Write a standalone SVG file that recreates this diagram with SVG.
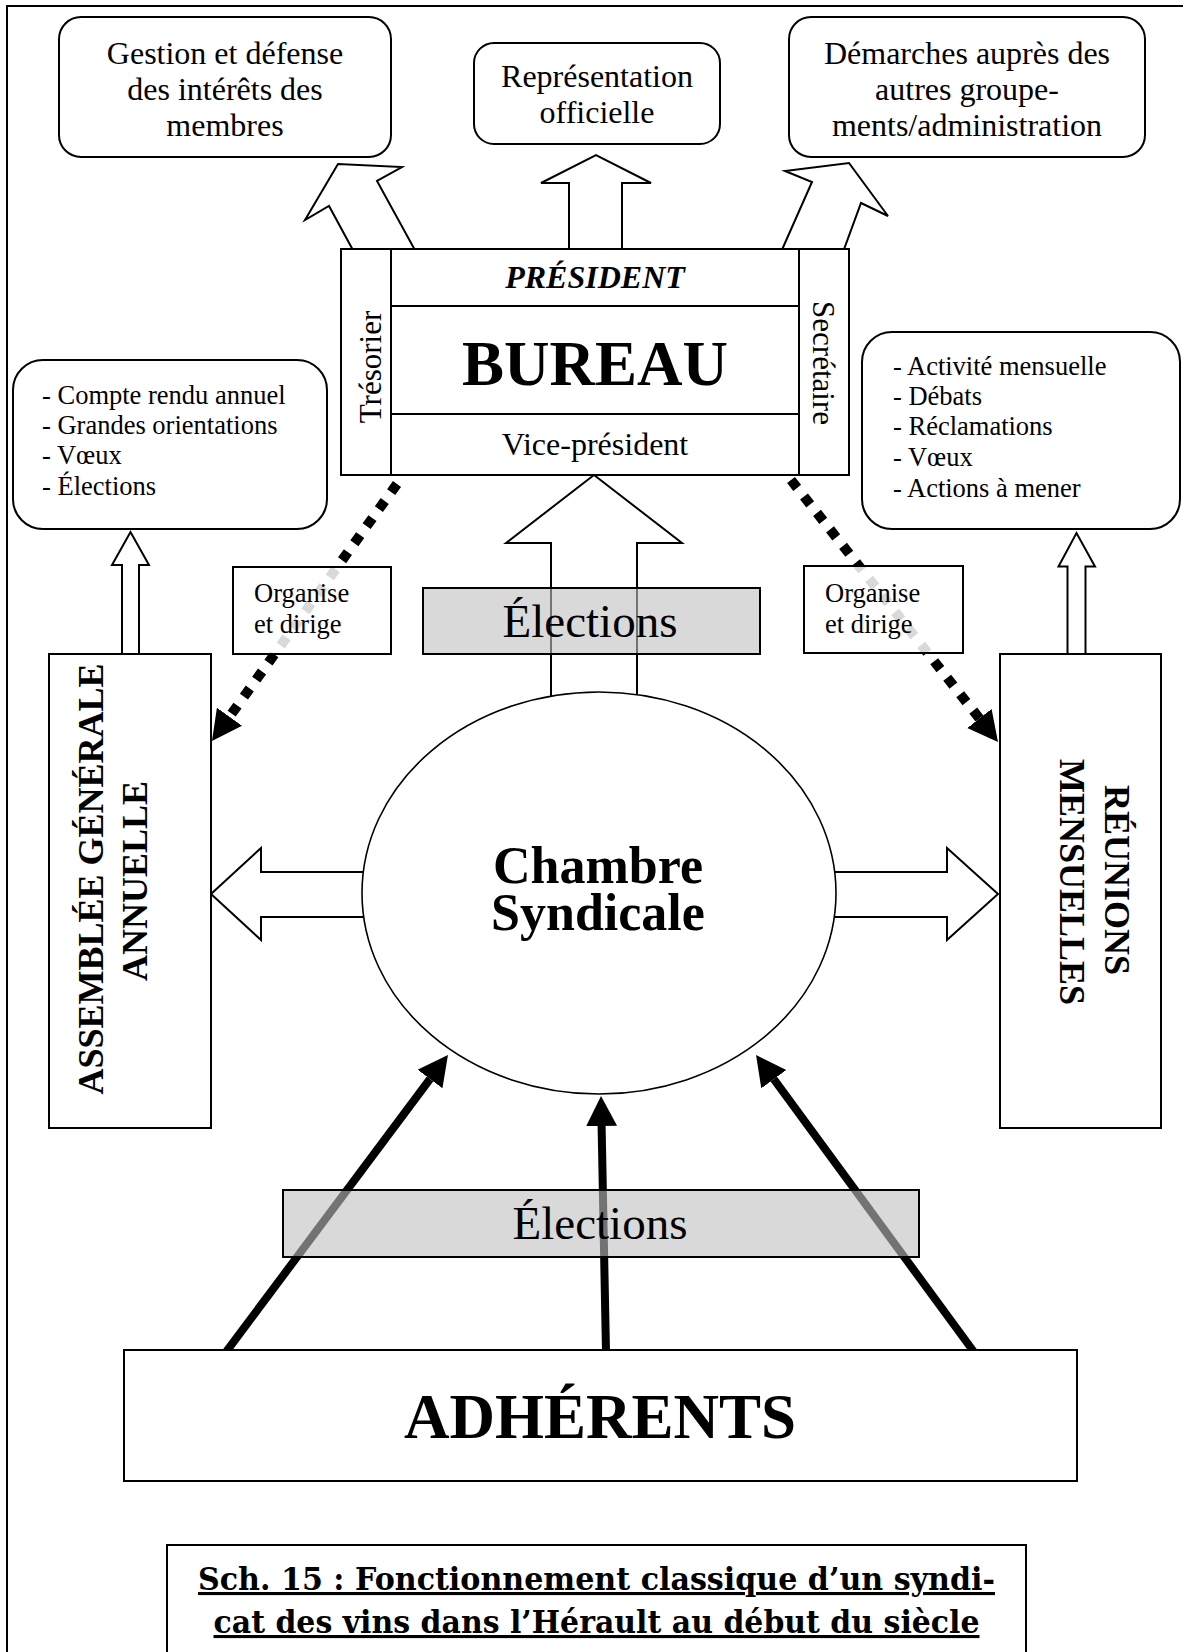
<svg xmlns="http://www.w3.org/2000/svg" width="1183" height="1652" viewBox="0 0 1183 1652">
<style>
  .box { fill: #fff; stroke: #000; stroke-width: 2; }
  .blk { fill: #fff; stroke: #000; stroke-width: 2; stroke-linejoin: miter; }
  .t { font-family: "Liberation Serif", "Times New Roman", serif; fill: #000; }
  .c { text-anchor: middle; }
  .f32 { font-size: 32px; }
  .f26 { font-size: 26.5px; }
  .side { font-size: 36px; font-weight: bold; text-anchor: middle; }
  .elec { fill: #bfbfbf; fill-opacity: 0.6; stroke: #000; stroke-width: 2; }
  .org { fill: #fff; fill-opacity: 0.85; stroke: #000; stroke-width: 2; }
  .dot { fill: none; stroke: #000; stroke-width: 10; stroke-dasharray: 10 11; stroke-linecap: butt; }
  .solid { fill: none; stroke: #000; stroke-width: 8; }
  .title { font-family: "DejaVu Serif", serif; font-size: 31px; font-weight: bold; text-anchor: middle; text-decoration: underline; }
</style>
<defs>
  <marker id="head" markerUnits="userSpaceOnUse" markerWidth="32" markerHeight="32" refX="0" refY="15.5" orient="auto" viewBox="0 0 32 32">
    <path d="M0,0 L30,15.5 L0,31 z" fill="#000"/>
  </marker>
</defs>

<rect id="frame" x="7" y="6" width="1200" height="1660" fill="#fff" stroke="#000" stroke-width="2"/>

<g id="connectors">
  <!-- block arrows from Bureau to top boxes -->
  <polygon class="blk" points="354,252 329,206 305,220 338,164 402,167 377,181 416,252"/>
  <polygon class="blk" points="569,252 569,183 541,183 596,155 651,183 622,183 622,252"/>
  <polygon class="blk" points="781,252 812,182 785,171 849,163 888,216 861,203 843,252"/>
  <!-- hollow arrows to the side info boxes -->
  <polygon class="blk" points="122,658 122,565 112,565 130.5,532 149,565 139,565 139,658"/>
  <polygon class="blk" points="1067.5,658 1067.5,566.5 1058.5,566.5 1076.5,533 1095,566.5 1085.5,566.5 1085.5,658"/>
  <!-- Chambre -> Bureau -->
  <polygon class="blk" points="551,705 551,543 506,543 594,475 682,543 637,543 637,705"/>
  <!-- Chambre -> Assemblée / Réunions -->
  <polygon class="blk" points="372,872 261,872 261,848 211,894 261,940 261,917 372,917"/>
  <polygon class="blk" points="826,872 947,872 947,848 998,894 947,940 947,917 826,917"/>
  <!-- Organise et dirige -->
  <line class="dot" x1="397" y1="484" x2="229.5" y2="716.7" marker-end="url(#head)"/>
  <line class="dot" x1="791" y1="480" x2="979.4" y2="718.5" marker-end="url(#head)"/>
  <!-- Adhérents -> Chambre -->
  <line class="solid" x1="226" y1="1352" x2="430" y2="1079" marker-end="url(#head)"/>
  <line class="solid" x1="606" y1="1352" x2="601.6" y2="1126" marker-end="url(#head)"/>
  <line class="solid" x1="974" y1="1352" x2="773.8" y2="1079.2" marker-end="url(#head)"/>
</g>

<g id="gestion">
  <rect class="box" x="59" y="17" width="332" height="140" rx="22"/>
  <text class="t f32 c" x="225" y="64">Gestion et défense</text>
  <text class="t f32 c" x="225" y="100">des intérêts des</text>
  <text class="t f32 c" x="225" y="136">membres</text>
</g>

<g id="representation">
  <rect class="box" x="474" y="43" width="246" height="101" rx="20"/>
  <text class="t f32 c" x="597" y="87">Représentation</text>
  <text class="t f32 c" x="597" y="123">officielle</text>
</g>

<g id="demarches">
  <rect class="box" x="789" y="17" width="356" height="140" rx="22"/>
  <text class="t f32 c" x="967" y="64">Démarches auprès des</text>
  <text class="t f32 c" x="967" y="100">autres groupe-</text>
  <text class="t f32 c" x="967" y="136">ments/administration</text>
</g>

<g id="bureau">
  <rect class="box" x="341" y="249" width="508" height="226"/>
  <line x1="391" y1="249" x2="391" y2="475" stroke="#000" stroke-width="2"/>
  <line x1="799" y1="249" x2="799" y2="475" stroke="#000" stroke-width="2"/>
  <line x1="391" y1="306" x2="799" y2="306" stroke="#000" stroke-width="2"/>
  <line x1="391" y1="414" x2="799" y2="414" stroke="#000" stroke-width="2"/>
  <text class="t c" x="595" y="288" font-size="32" font-weight="bold" font-style="italic">PRÉSIDENT</text>
  <text class="t c" x="595" y="385" font-size="63" font-weight="bold">BUREAU</text>
  <text class="t f32 c" x="595" y="455">Vice-président</text>
  <text class="t c" font-size="31" transform="translate(381,367) rotate(-90)">Trésorier</text>
  <text class="t c" font-size="31" transform="translate(813,363) rotate(90)">Secrétaire</text>
</g>

<g id="compte-rendu">
  <rect class="box" x="13" y="360" width="314" height="169" rx="30"/>
  <text class="t f26" x="42" y="404">- Compte rendu annuel</text>
  <text class="t f26" x="42" y="434">- Grandes orientations</text>
  <text class="t f26" x="42" y="464">- Vœux</text>
  <text class="t f26" x="42" y="495">- Élections</text>
</g>

<g id="activite">
  <rect class="box" x="862" y="332" width="318" height="197" rx="30"/>
  <text class="t f26" x="893" y="375">- Activité mensuelle</text>
  <text class="t f26" x="893" y="405">- Débats</text>
  <text class="t f26" x="893" y="435">- Réclamations</text>
  <text class="t f26" x="893" y="466">- Vœux</text>
  <text class="t f26" x="893" y="497">- Actions à mener</text>
</g>

<g id="organise-gauche">
  <rect class="org" x="233" y="567" width="158" height="87"/>
  <text class="t f26" x="254" y="602">Organise</text>
  <text class="t f26" x="254" y="633">et dirige</text>
</g>

<g id="organise-droite">
  <rect class="org" x="804" y="566" width="159" height="87"/>
  <text class="t f26" x="825" y="602">Organise</text>
  <text class="t f26" x="825" y="633">et dirige</text>
</g>

<g id="assemblee">
  <rect class="box" x="49" y="654" width="162" height="474"/>
  <text class="t side" transform="translate(103,879) rotate(-90)">ASSEMBLÉE GÉNÉRALE</text>
  <text class="t side" transform="translate(147,881) rotate(-90)">ANNUELLE</text>
</g>

<g id="reunions">
  <rect class="box" x="1000" y="654" width="161" height="474"/>
  <text class="t side" transform="translate(1105,880) rotate(90)">RÉUNIONS</text>
  <text class="t side" transform="translate(1060,882) rotate(90)">MENSUELLES</text>
</g>

<g id="chambre">
  <ellipse cx="599" cy="893" rx="237" ry="201" fill="#fff" stroke="#000" stroke-width="1.6"/>
  <text class="t c" x="598" y="883" font-size="52" font-weight="bold">Chambre</text>
  <text class="t c" x="598" y="930" font-size="52" font-weight="bold">Syndicale</text>
</g>

<g id="elections-haut">
  <rect class="elec" x="423" y="588" width="337" height="66"/>
  <text class="t c" x="590" y="637" font-size="47">Élections</text>
</g>

<g id="elections-bas">
  <rect class="elec" x="283" y="1190" width="636" height="67"/>
  <text class="t c" x="600" y="1239" font-size="47">Élections</text>
</g>

<g id="adherents">
  <rect class="box" x="124" y="1350" width="953" height="131"/>
  <text class="t c" x="600" y="1438" font-size="63" font-weight="bold">ADHÉRENTS</text>
</g>

<g id="titre">
  <rect class="box" x="167" y="1545" width="859" height="130"/>
  <text class="title" x="596.5" y="1590" textLength="797" lengthAdjust="spacingAndGlyphs">Sch. 15 : Fonctionnement classique d’un syndi-</text>
  <text class="title" x="596.5" y="1633" textLength="766" lengthAdjust="spacingAndGlyphs">cat des vins dans l’Hérault au début du siècle</text>
</g>
</svg>
